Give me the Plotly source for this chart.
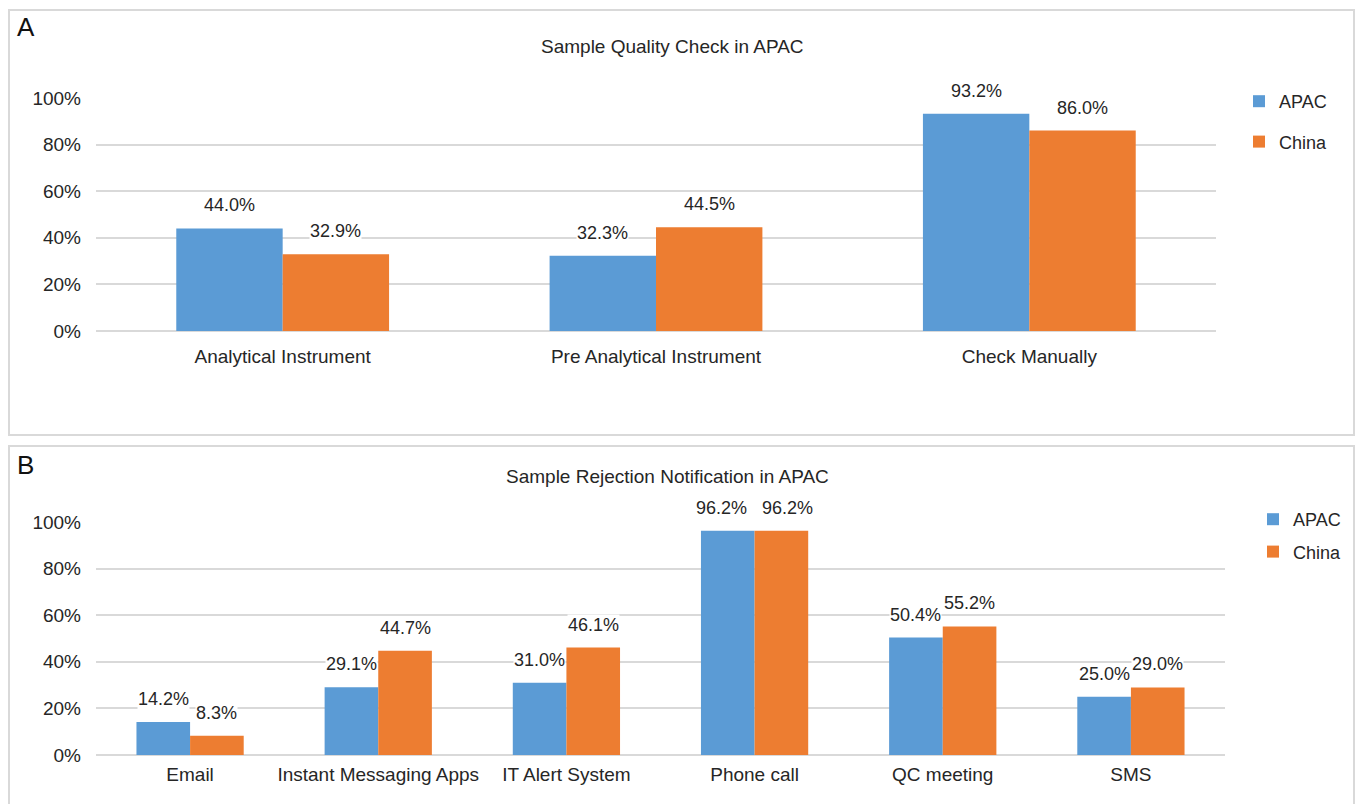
import plotly.graph_objects as go

# ---- data ----
quality_categories = ["Analytical Instrument", "Pre Analytical Instrument", "Check Manually"]
quality_apac = [44.0, 32.3, 93.2]
quality_china = [32.9, 44.5, 86.0]

notify_categories = ["Email", "Instant Messaging Apps", "IT Alert System",
                     "Phone call", "QC meeting", "SMS"]
notify_apac = [14.2, 29.1, 31.0, 96.2, 50.4, 25.0]
notify_china = [8.3, 44.7, 46.1, 96.2, 55.2, 29.0]

y_ticks = [0, 20, 40, 60, 80, 100]
y_tick_text = ["0%", "20%", "40%", "60%", "80%", "100%"]

# ---- styling ----
W, H = 1355, 804
BLUE = "#5B9BD5"
ORANGE = "#ED7D31"
TEXT = "#262626"
GRID = "#d9d9d9"
FONT = "Liberation Sans"
FS = 19
LABEL_FS = 18
BARGAP = 0.43


def px_x(p):
    return p / W


def px_y(p):
    return 1 - p / H


fig = go.Figure()

for name, color, cats, vals, xa, ya, lg, grp in [
    ("APAC", BLUE, quality_categories, quality_apac, "x", "y", "legend", "a1"),
    ("China", ORANGE, quality_categories, quality_china, "x", "y", "legend", "a2"),
    ("APAC", BLUE, notify_categories, notify_apac, "x2", "y2", "legend2", "b1"),
    ("China", ORANGE, notify_categories, notify_china, "x2", "y2", "legend2", "b2"),
]:
    fig.add_trace(go.Bar(x=cats, y=vals, name=name,
                         marker=dict(color=color, line=dict(width=0)),
                         xaxis=xa, yaxis=ya, legend=lg, legendgroup=grp))

# value labels on white boxes above each bar; labels of equal-height
# neighbours are nudged apart so they don't collide
half = (1 - BARGAP) / 4
annotations = []
for xref, yref, cats, a_vals, c_vals in [
    ("x", "y", quality_categories, quality_apac, quality_china),
    ("x2", "y2", notify_categories, notify_apac, notify_china),
]:
    for i in range(len(cats)):
        nudge = 6 if abs(a_vals[i] - c_vals[i]) < 2 else 0
        for off, v, dx in ((-half, a_vals[i], -nudge), (half, c_vals[i], nudge)):
            annotations.append(dict(
                x=i + off, y=v, xref=xref, yref=yref,
                text=f"{v:.1f}%", showarrow=False,
                yanchor="middle", yshift=23, xshift=dx,
                bgcolor="white", borderpad=0,
                font=dict(family=FONT, size=LABEL_FS, color=TEXT),
            ))

# panel letters and titles
annotations += [
    dict(x=px_x(15), y=px_y(27), xref="paper", yref="paper", text="A",
         showarrow=False, xanchor="left", yanchor="middle",
         font=dict(family=FONT, size=26, color="#111")),
    dict(x=px_x(15), y=px_y(465), xref="paper", yref="paper", text="B",
         showarrow=False, xanchor="left", yanchor="middle",
         font=dict(family=FONT, size=26, color="#111")),
    dict(x=px_x(672), y=px_y(46), xref="paper", yref="paper",
         text="Sample Quality Check in APAC", showarrow=False,
         xanchor="center", yanchor="middle",
         font=dict(family=FONT, size=FS, color=TEXT)),
    dict(x=px_x(667), y=px_y(476), xref="paper", yref="paper",
         text="Sample Rejection Notification in APAC", showarrow=False,
         xanchor="center", yanchor="middle",
         font=dict(family=FONT, size=FS, color=TEXT)),
]

# panel frames
shapes = [
    dict(type="rect", xref="paper", yref="paper",
         x0=px_x(9), x1=px_x(1354), y0=px_y(435), y1=px_y(10),
         line=dict(color=GRID, width=2)),
    dict(type="rect", xref="paper", yref="paper",
         x0=px_x(9), x1=px_x(1354), y0=px_y(812), y1=px_y(446),
         line=dict(color=GRID, width=2)),
]

yaxis_common = dict(range=[0, 100], tickvals=y_ticks, ticktext=y_tick_text,
                    showgrid=True, gridcolor=GRID, gridwidth=1.5,
                    zeroline=True, zerolinecolor=GRID, zerolinewidth=1.5,
                    showline=False, ticks="", ticklabelstandoff=14,
                    automargin=False,
                    tickfont=dict(family=FONT, size=FS, color=TEXT),
                    fixedrange=True)
xaxis_common = dict(showgrid=False, showline=False, ticks="", type="category",
                    automargin=False,
                    tickfont=dict(family=FONT, size=FS, color=TEXT),
                    fixedrange=True)

fig.update_layout(
    width=W, height=H,
    margin=dict(l=0, r=0, t=0, b=0, autoexpand=False),
    paper_bgcolor="white", plot_bgcolor="white",
    barmode="group", bargap=BARGAP, bargroupgap=0,
    font=dict(family=FONT, color=TEXT),
    xaxis=dict(domain=[px_x(96), px_x(1216)], anchor="y",
               ticklabelstandoff=12, **xaxis_common),
    yaxis=dict(domain=[px_y(331), px_y(98)], anchor="x", **yaxis_common),
    xaxis2=dict(domain=[px_x(96), px_x(1225)], anchor="y2",
                ticklabelstandoff=6, **xaxis_common),
    yaxis2=dict(domain=[px_y(755), px_y(522)], anchor="x2", **yaxis_common),
    legend=dict(x=px_x(1239), y=px_y(83), xanchor="left", yanchor="top",
                font=dict(family=FONT, size=18, color=TEXT),
                tracegroupgap=14, bgcolor="rgba(0,0,0,0)"),
    legend2=dict(x=px_x(1253), y=px_y(501), xanchor="left", yanchor="top",
                 font=dict(family=FONT, size=18, color=TEXT),
                 tracegroupgap=6, bgcolor="rgba(0,0,0,0)"),
    annotations=annotations,
    shapes=shapes,
    showlegend=True,
)

fig.write_html("out.html")
